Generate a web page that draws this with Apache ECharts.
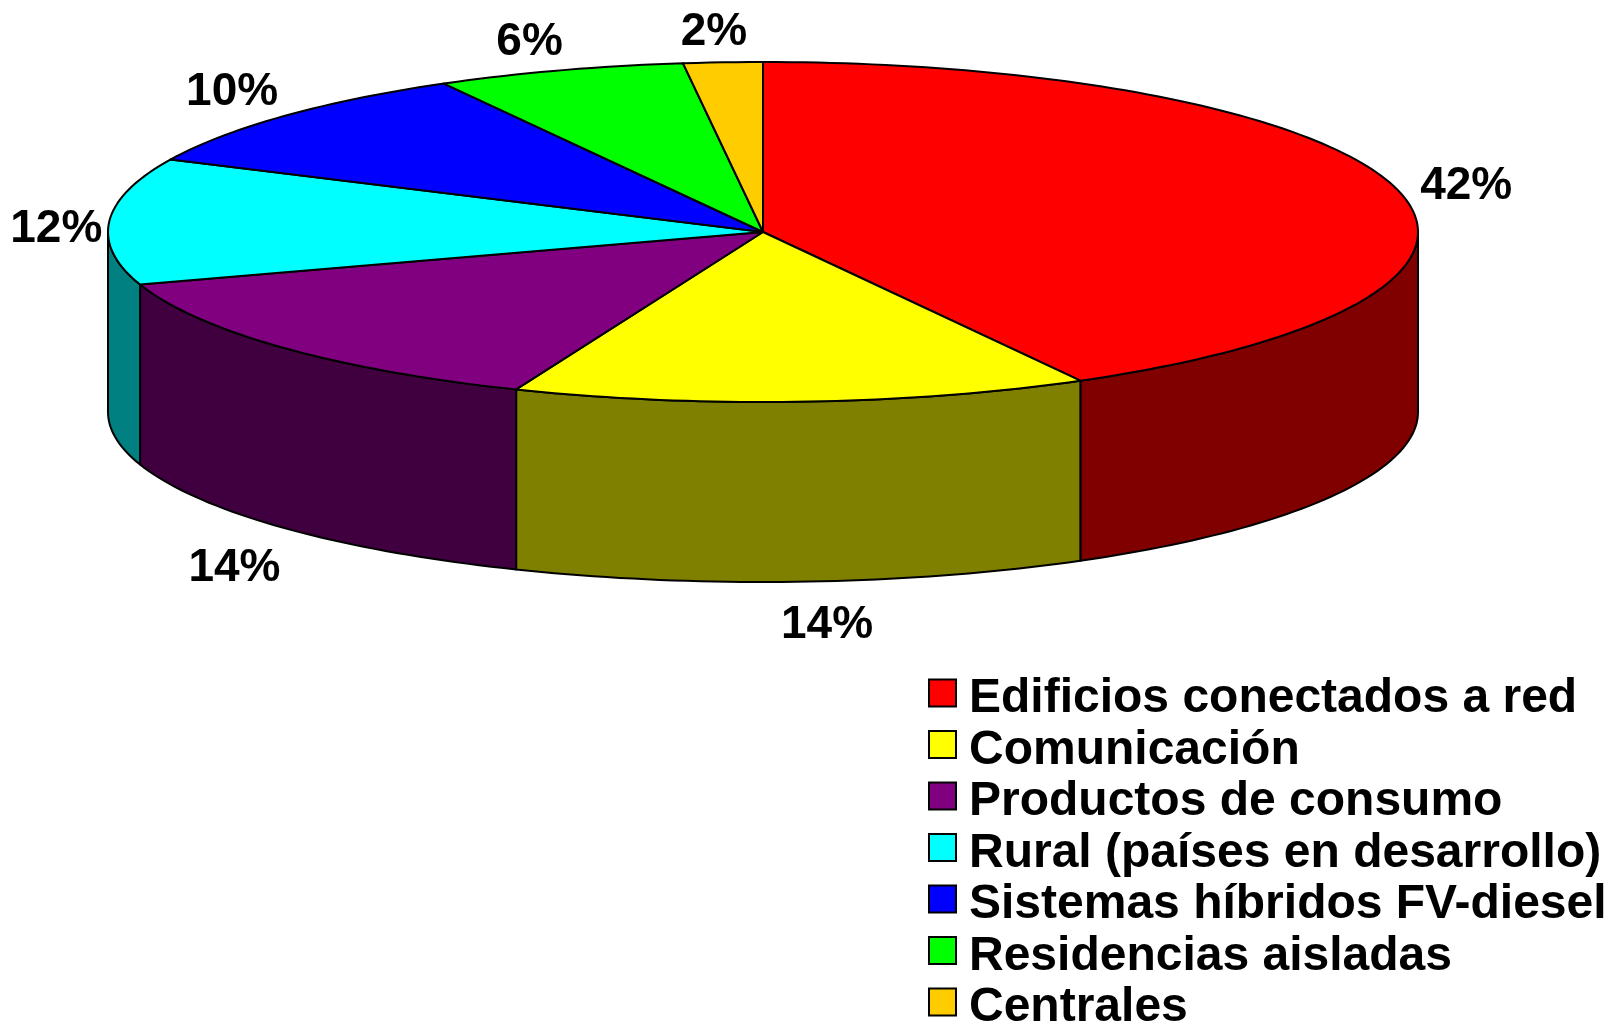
<!DOCTYPE html>
<html>
<head>
<meta charset="utf-8">
<style>
  html, body { margin: 0; padding: 0; background: #fff; }
  #chart { width: 1612px; height: 1023px; }
</style>
<script src="https://cdn.jsdelivr.net/npm/echarts@6/dist/echarts.min.js"></script>
</head>
<body>
<div id="chart"></div>
<script>
const categories = [
  'Edificios conectados a red',
  'Comunicación',
  'Productos de consumo',
  'Rural (países en desarrollo)',
  'Sistemas híbridos FV-diesel',
  'Residencias aisladas',
  'Centrales',
]
// the labels show them rounded
const shares = [41.95, 14.2, 13.85, 12, 9.9, 6.15, 1.95]
const topColors = ['#ff0000', '#ffff00', '#800080', '#00ffff', '#0000ff', '#00ff00', '#ffcc00']
const sideColors = ['#800000', '#808000', '#400040', '#008080', '#000080', '#008000', '#806600']

// pie look
const DEPTH = 180
const FONT = '"Liberation Sans", Arial, sans-serif'
// label offset from the slice's rim point at its middle angle
const labelNudge = [
  [69, -3], [25, 224], [-49, 221], [-53, 8], [-52, -24], [-30, -28], [-9, -30],
]

let sum = 0
const starts = shares.map(v => {
  const s = sum
  sum += v
  return s
})

const rimPoints = (api, from, to) => {
  const pts = []
  const steps = Math.max(2, Math.ceil((to - from) * 3))
  for (let i = 0; i <= steps; i++) {
    const t = ((from + (to - from) * i / steps) / 100) * Math.PI * 2
    pts.push(api.coord([Math.sin(t), Math.cos(t)]))
  }
  return pts
}

const renderSlice = index => (params, api) => {
  const from = api.value(0)
  const to = from + api.value(1)
  const line = { stroke: '#000', lineWidth: 2, lineJoin: 'round' }
  const children = []

  // only the front half of the rim (25..75 %) has a visible wall
  const wallFrom = Math.max(from, 25)
  const wallTo = Math.min(to, 75)
  if (wallTo > wallFrom) {
    const upper = rimPoints(api, wallFrom, wallTo)
    const lower = upper.map(p => [p[0], p[1] + DEPTH]).reverse()
    children.push({
      type: 'polygon',
      z2: 1,
      shape: { points: upper.concat(lower) },
      style: { fill: sideColors[index], ...line },
    })
  }

  const top = rimPoints(api, from, to)
  children.push({
    type: 'polygon',
    z2: 2,
    shape: { points: [api.coord([0, 0])].concat(top) },
    style: { fill: topColors[index], ...line },
  })

  const mid = (((from + to) / 2) / 100) * Math.PI * 2
  const rim = api.coord([Math.sin(mid), Math.cos(mid)])
  children.push({
    type: 'text',
    z2: 3,
    style: {
      x: rim[0] + labelNudge[index][0],
      y: rim[1] + labelNudge[index][1],
      text: Math.round(api.value(1)) + '%',
      font: 'bold 46px ' + FONT,
      fill: '#000',
      align: 'center',
      verticalAlign: 'middle',
    },
  })
  return { type: 'group', children }
}

const chart = echarts.init(document.getElementById('chart'))
chart.setOption({
  animation: false,
  backgroundColor: '#fff',
  // the grid is the bounding box of the pie's top ellipse
  grid: { left: 108, top: 62, width: 1310, height: 340 },
  xAxis: { type: 'value', min: -1, max: 1, show: false },
  yAxis: { type: 'value', min: -1, max: 1, show: false },
  legend: {
    orient: 'vertical',
    left: 928,
    top: 663,
    height: 420,
    padding: 0,
    itemWidth: 27,
    itemHeight: 27,
    itemGap: -8.5,
    icon: 'rect',
    selectedMode: false,
    itemStyle: { borderColor: '#000', borderWidth: 2 },
    formatter: '{a|{name}}',
    textStyle: {
      rich: {
        a: {
          fontFamily: FONT,
          fontWeight: 'bold',
          fontSize: 48,
          color: '#000',
          lineHeight: 43,
          padding: [12, 0, 0, 8],
        },
      },
    },
    data: categories,
  },
  series: categories.map((name, i) => ({
    name,
    type: 'custom',
    coordinateSystem: 'cartesian2d',
    renderItem: renderSlice(i),
    itemStyle: { color: topColors[i] },
    silent: true,
    data: [[starts[i], shares[i]]],
  })),
})
</script>
</body>
</html>
